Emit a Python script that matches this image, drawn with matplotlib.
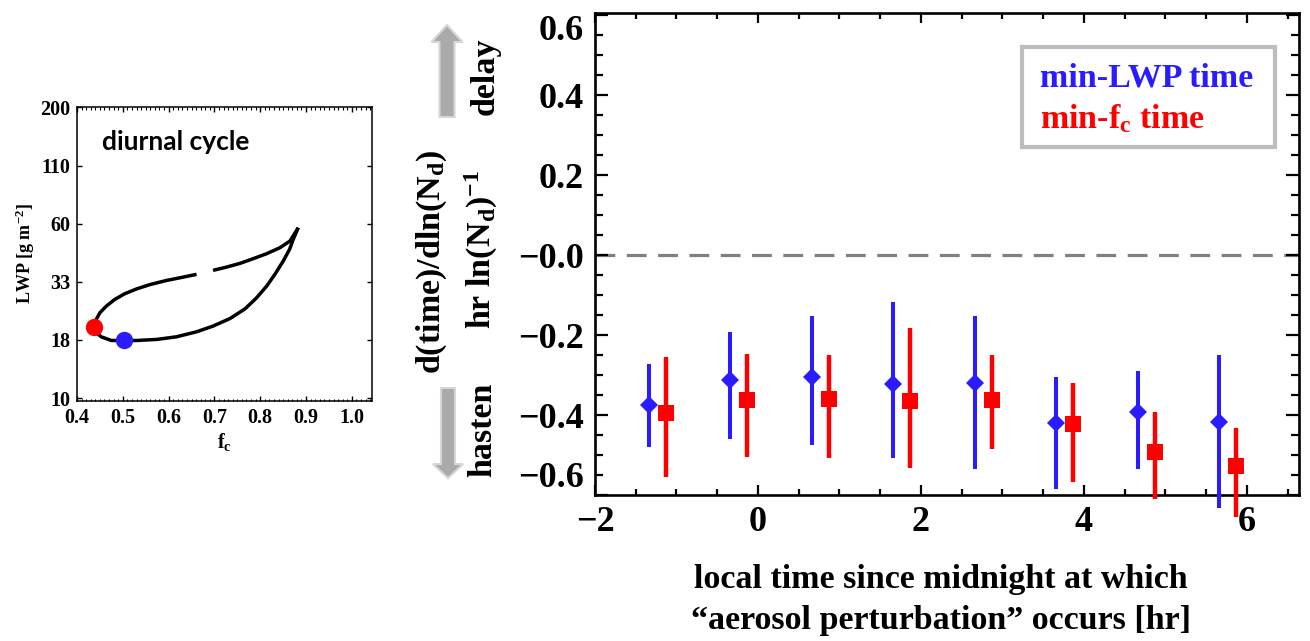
import matplotlib
matplotlib.use("Agg")
import matplotlib.pyplot as plt
from matplotlib.patches import FancyArrow, Rectangle
from matplotlib.ticker import MultipleLocator, FixedLocator, NullFormatter

plt.rcParams['font.family'] = ['Liberation Serif', 'DejaVu Serif']
plt.rcParams['font.weight'] = 'bold'
plt.rcParams['mathtext.fontset'] = 'custom'
plt.rcParams['mathtext.rm'] = 'Liberation Serif:bold'
plt.rcParams['mathtext.it'] = 'Liberation Serif:bold'
plt.rcParams['mathtext.bf'] = 'Liberation Serif:bold'

# ---- main panel data ----
lwp_x = [-1.34, -0.34, 0.66, 1.66, 2.66, 3.66, 4.66, 5.66]
lwp_y = [-0.375, -0.3125, -0.304, -0.3225, -0.321, -0.421, -0.393, -0.417]
lwp_lo = [-0.479, -0.46, -0.475, -0.508, -0.535, -0.585, -0.535, -0.633]
lwp_hi = [-0.2725, -0.192, -0.152, -0.117, -0.1525, -0.304, -0.29, -0.25]

fc_x = [-1.13, -0.13, 0.87, 1.87, 2.87, 3.87, 4.87, 5.87]
fc_y = [-0.394, -0.3625, -0.36, -0.365, -0.3625, -0.4225, -0.492, -0.5275]
fc_lo = [-0.554, -0.504, -0.507, -0.533, -0.485, -0.5675, -0.609, -0.654]
fc_hi = [-0.254, -0.2475, -0.25, -0.183, -0.251, -0.321, -0.393, -0.433]

xticks = [-2, 0, 2, 4, 6]
xtick_labels = ['\u22122', '0', '2', '4', '6']
yticks = [-0.6, -0.4, -0.2, 0.0, 0.2, 0.4, 0.6]
ytick_labels = ['\u22120.6', '\u22120.4', '\u22120.2', '\u22120.0', '0.2', '0.4', '0.6']

# ---- inset (diurnal cycle) data ----
upper_fc = [0.437, 0.442, 0.450, 0.464, 0.482, 0.504, 0.530, 0.559, 0.595, 0.632, 0.661]
upper_lwp = [20.9, 22.5, 24.1, 25.8, 27.6, 29.3, 30.8, 32.2, 33.6, 34.8, 35.8]
upper2_fc = [0.697, 0.727, 0.756, 0.785, 0.814, 0.843, 0.865, 0.883]
upper2_lwp = [37.3, 38.6, 40.1, 42.1, 44.3, 47.1, 50.5, 57.9]
lower_fc = [0.883, 0.872, 0.864, 0.850, 0.832, 0.814, 0.792, 0.767, 0.734, 0.697,
            0.661, 0.617, 0.574, 0.530, 0.502, 0.475, 0.453, 0.441, 0.437]
lower_lwp = [57.9, 51.3, 46.3, 41.0, 35.8, 31.7, 28.1, 25.1, 22.7, 21.0,
             19.8, 18.8, 18.3, 18.1, 18.1, 18.1, 18.8, 19.7, 20.6]
min_fc_pt = (0.437, 20.9)
min_lwp_pt = (0.502, 18.1)
inset_yticks = [10, 18.2, 33.1, 60.3, 109.9, 200]
inset_ytick_labels = ['10', '18', '33', '60', '110', '200']
inset_xticks = [0.4, 0.5, 0.6, 0.7, 0.8, 0.9, 1.0]
inset_xtick_labels = ['0.4', '0.5', '0.6', '0.7', '0.8', '0.9', '1.0']

BLUE = '#2a1cff'
RED = '#ff0000'

fig = plt.figure(figsize=(13.1, 6.41), dpi=100)

# ================= main panel =================
ax = fig.add_axes([595 / 1310, 1 - 495 / 641, 704 / 1310, 482 / 641])
ax.set_xlim(-2, 6.64)
ax.set_ylim(-0.6, 0.605)

ax.axhline(0, color='#808080', lw=2.3, dashes=(6.2, 3.6), zorder=1)

ax.vlines(lwp_x, lwp_lo, lwp_hi, color=BLUE, lw=2.9, clip_on=False, zorder=3)
ax.plot(lwp_x, lwp_y, 'D', color=BLUE, ms=9, mew=0, clip_on=False, zorder=4)
ax.vlines(fc_x, fc_lo, fc_hi, color=RED, lw=3.2, clip_on=False, zorder=3)
ax.plot(fc_x, fc_y, 's', color=RED, ms=11, mew=0, clip_on=False, zorder=4)

ax.set_xticks(xticks)
ax.set_xticklabels(xtick_labels, fontsize=26, fontweight='bold')
ax.set_yticks(yticks)
ax.set_yticklabels(ytick_labels, fontsize=26, fontweight='bold')
ax.xaxis.set_minor_locator(MultipleLocator(0.5))
ax.yaxis.set_minor_locator(MultipleLocator(0.05))
ax.tick_params(axis='x', which='major', direction='in', length=7.5, width=1.6,
               top=True, pad=8)
ax.tick_params(axis='x', which='minor', direction='in', length=4, width=1.6, top=True)
ax.tick_params(axis='y', which='major', direction='in', length=9.5, width=1.6,
               right=True, pad=8)
ax.tick_params(axis='y', which='minor', direction='in', length=5.5, width=1.6, right=True)
labs = ax.get_yticklabels()
labs[0].set_va('bottom')
labs[-1].set_va('top')
for s in ax.spines.values():
    s.set_linewidth(1.9)

# legend box
ax.add_patch(Rectangle((0.6065, 0.722), 0.36, 0.207, transform=ax.transAxes,
                       fill=False, ec='#bdbdbd', lw=3, zorder=5))
ax.text(0.632, 0.865, 'min-LWP time', transform=ax.transAxes, color=BLUE,
        fontsize=24.5, fontweight='bold', va='center', ha='left')
ax.text(0.632, 0.78, r'min-f$_\mathrm{c}$ time', transform=ax.transAxes, color=RED,
        fontsize=24.5, fontweight='bold', va='center', ha='left')

fig.text(941 / 1310, 1 - 600 / 641,
         'local time since midnight at which\n\u201caerosol perturbation\u201d occurs [hr]',
         ha='center', va='center', fontsize=24.5, fontweight='bold', linespacing=1.38)

# ================= overlay for labels/arrows (pixel coords) =================
ov = fig.add_axes([0, 0, 1, 1], zorder=-1)
ov.set_xlim(0, 1310)
ov.set_ylim(641, 0)
ov.axis('off')
ov.add_patch(FancyArrow(447, 117, 0, -92, width=15, head_width=31, head_length=17,
                        length_includes_head=True, fc='#aaaaaa', ec='#d6d6d6', lw=1.5))
ov.add_patch(FancyArrow(448, 388, 0, 90, width=14, head_width=30, head_length=14,
                        length_includes_head=True, fc='#aaaaaa', ec='#d6d6d6', lw=1.5))
ov.text(432, 262, r'd(time)/dln(N$_\mathrm{d}$)', rotation=90, ha='center', va='center',
        fontsize=24.5, fontweight='bold')
ov.text(481, 250, r'hr ln(N$_\mathrm{d}$)$^{-1}$', rotation=90, ha='center', va='center',
        fontsize=24.5, fontweight='bold')
ov.text(485, 76, 'delay', rotation=90, ha='center', va='center', fontsize=24.5,
        fontweight='bold')
ov.text(483, 430, 'hasten', rotation=90, ha='center', va='center', fontsize=24.5,
        fontweight='bold')

# ================= inset =================
ax2 = fig.add_axes([77 / 1310, 1 - 401 / 641, 295 / 1310, 294 / 641])
ax2.set_yscale('log')
ax2.set_xlim(0.4, 1.044)
ax2.set_ylim(9.7, 201)
ax2.plot(upper_fc, upper_lwp, color='black', lw=2.5, solid_capstyle='butt')
ax2.plot(upper2_fc, upper2_lwp, color='black', lw=2.5, solid_capstyle='butt')
ax2.plot(lower_fc, lower_lwp, color='black', lw=2.5, solid_capstyle='butt')
ax2.plot(*min_fc_pt, 'o', color=RED, ms=12.5, mew=0, zorder=5)
ax2.plot(*min_lwp_pt, 'o', color=BLUE, ms=12.5, mew=0, zorder=5)

ax2.yaxis.set_major_locator(FixedLocator(inset_yticks))
ax2.yaxis.set_minor_locator(FixedLocator([]))
ax2.yaxis.set_minor_formatter(NullFormatter())
ax2.set_yticklabels(inset_ytick_labels, fontsize=14.5, fontweight='bold')
ax2.set_xticks(inset_xticks)
ax2.set_xticklabels(inset_xtick_labels, fontsize=14.5, fontweight='bold')
ax2.xaxis.set_minor_locator(MultipleLocator(0.01))
ax2.tick_params(axis='both', which='major', direction='in', length=3.5, width=1.0,
                top=True, right=True, pad=5)
ax2.tick_params(axis='x', which='minor', direction='in', length=1.8, width=0.8, top=True)
for s in ax2.spines.values():
    s.set_linewidth(1.1)
ax2.set_xlabel(r'f$_\mathrm{c}$', fontsize=14.5, fontweight='bold', labelpad=2)
ax2.set_ylabel(r'LWP [g m$^{-2}$]', fontsize=13, fontweight='bold', labelpad=2)
ax2.text(0.085, 0.88, 'diurnal cycle', transform=ax2.transAxes, fontsize=19,
         fontweight='bold', family=['Lato', 'DejaVu Sans'], va='center', ha='left')

fig.savefig('out.png', dpi=100)
